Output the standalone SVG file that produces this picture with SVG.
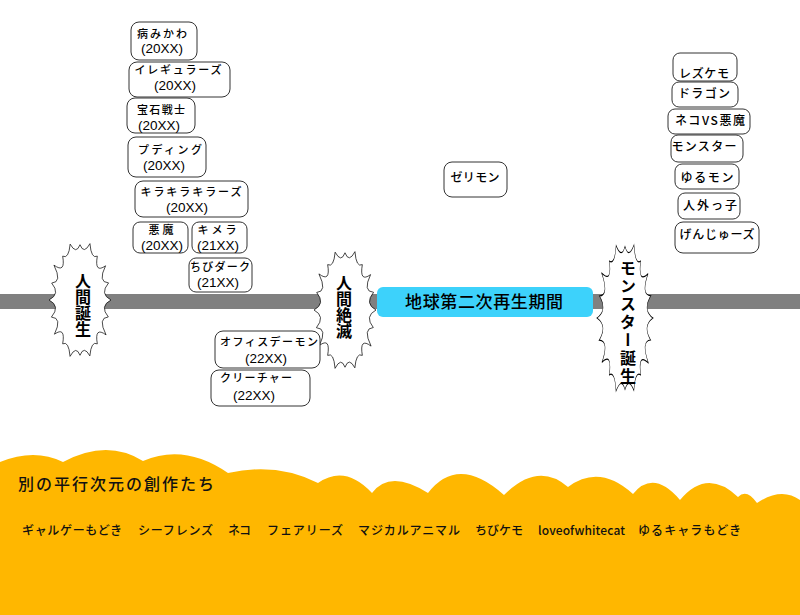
<svg xmlns="http://www.w3.org/2000/svg" xmlns:xlink="http://www.w3.org/1999/xlink" width="800" height="615" viewBox="0 0 800 615">
<style>
.box{fill:#fff;stroke:#333;stroke-width:1}
.t{font-family:"Noto Sans CJK JP","Noto Sans",sans-serif;font-size:11px;font-weight:500;fill:#000;text-anchor:middle}
.s{font-size:12px}
.y{font-family:"Liberation Sans",Arial,sans-serif;font-size:13.5px;fill:#000;text-anchor:middle}
.burst{fill:#fff;stroke:#000;stroke-width:1.6;stroke-linejoin:miter;vector-effect:non-scaling-stroke}
.v{font-family:"Noto Sans CJK JP",sans-serif;font-size:16px;font-weight:bold;fill:#000;writing-mode:vertical-rl;text-anchor:middle}
.list{font-family:"Noto Sans CJK JP","Noto Sans",sans-serif;font-size:12px;font-weight:500;fill:#111}
</style>
<defs>
<path id="bp" d="M100,0 Q62,10.6 91.3,29.7 Q56,30.9 84.1,61.2 Q46,46 55.9,76.9 Q36.3,71.3 31.8,98 Q12.5,79 0,97 Q-12.5,79 -32.1,98.9 Q-36.3,71.3 -55.9,76.9 Q-46,46 -82.5,60 Q-56,30.9 -92.2,30 Q-62,10.6 -100,0 Q-62,-10.6 -91.3,-29.7 Q-56,-30.9 -84.1,-61.2 Q-46,-46 -55.9,-76.9 Q-36.3,-71.3 -31.8,-98 Q-12.5,-79 0,-97 Q12.5,-79 32.1,-98.9 Q36.3,-71.3 55.9,-76.9 Q46,-46 82.5,-60 Q56,-30.9 92.2,-30 Q62,-10.6 100,0 Z"/>
</defs>
<rect width="800" height="615" fill="#fff"/>
<g id="timeline">
<rect x="0" y="294" width="800" height="15" fill="#808080"/>
</g>
<g id="bottom">
<path d="M0,462 Q34.5,448 63,462 Q107,438.5 143,461 Q184.5,443 228,473 Q277,462 318,483 Q345,464 372,493 Q390,469 428,493 Q458,454 504,495 Q538,461 568,487 Q599.5,463.5 633,494 Q653.5,469 680,500 Q707,467.5 738,497 Q746.5,488 757,503 Q781.5,486.5 800,500 L800,615 L0,615 Z" fill="#FFB700"/>
<text x="18" y="490" font-family="Noto Sans CJK JP,sans-serif" font-size="16" font-weight="500" fill="#111" textLength="196" lengthAdjust="spacing">別の平行次元の創作たち</text>
<text class="list" x="22" y="535" textLength="100" lengthAdjust="spacing">ギャルゲーもどき</text>
<text class="list" x="138" y="535" textLength="75" lengthAdjust="spacing">シーフレンズ</text>
<text class="list" x="228" y="535" textLength="23" lengthAdjust="spacing">ネコ</text>
<text class="list" x="267" y="535" textLength="76" lengthAdjust="spacing">フェアリーズ</text>
<text class="list" x="358" y="535" textLength="102" lengthAdjust="spacing">マジカルアニマル</text>
<text class="list" x="475" y="535" textLength="48" lengthAdjust="spacing">ちびケモ</text>
<text class="list" x="538" y="535" font-size="13" textLength="87" lengthAdjust="spacing">loveofwhitecat</text>
<text class="list" x="638" y="535" textLength="103" lengthAdjust="spacing">ゆるキャラもどき</text>
</g>
<g id="period">
<rect x="377" y="287" width="216" height="30" rx="6" fill="#3DD2FB"/>
<text x="484" y="308" font-family="Noto Sans CJK JP,sans-serif" font-size="17" font-weight="500" fill="#000" text-anchor="middle" textLength="158" lengthAdjust="spacing">地球第二次再生期間</text>
</g>
<g id="burst-human-birth">
<use xlink:href="#bp" class="burst" transform="translate(80,300) scale(0.31,0.57)"/>
<text class="v" x="83" y="305">人間誕生</text>
</g>
<g id="burst-human-extinct">
<use xlink:href="#bp" class="burst" transform="translate(345,310) scale(0.31,0.59)"/>
<text class="v" x="344" y="307">人間絶滅</text>
</g>
<g id="burst-monster-birth">
<use xlink:href="#bp" class="burst" transform="translate(625,318) scale(0.28,0.74)"/>
<text class="v" x="628" y="323" letter-spacing="2">モンスター誕生</text>
</g>
<g id="n-yamikawa"><rect class="box" x="131" y="22" width="66" height="38" rx="8"/><text class="t" x="162" y="38" textLength="50" lengthAdjust="spacing">病みかわ</text><text class="y" x="162" y="52.5">(20XX)</text></g>
<g id="n-irregulars"><rect class="box" x="129" y="62" width="101" height="35" rx="8"/><text class="t" x="178" y="74" textLength="87" lengthAdjust="spacing">イレギュラーズ</text><text class="y" x="175" y="89.5">(20XX)</text></g>
<g id="n-houseki"><rect class="box" x="127" y="98" width="68" height="35" rx="8"/><text class="t" x="161" y="114" textLength="48" lengthAdjust="spacing">宝石戦士</text><text class="y" x="159" y="129.5">(20XX)</text></g>
<g id="n-pudding"><rect class="box" x="128" y="137" width="78" height="40" rx="8"/><text class="t" x="170" y="154" textLength="64" lengthAdjust="spacing">プディング</text><text class="y" x="164" y="169.5">(20XX)</text></g>
<g id="n-kirakira"><rect class="box" x="135" y="181" width="113" height="36" rx="8"/><text class="t" x="191" y="196" textLength="101" lengthAdjust="spacing">キラキラキラーズ</text><text class="y" x="187" y="211.5">(20XX)</text></g>
<g id="n-akuma"><rect class="box" x="133" y="222" width="55" height="31" rx="7"/><text class="t" x="161" y="234" textLength="25" lengthAdjust="spacing">悪魔</text><text class="y" x="162" y="249.5">(20XX)</text></g>
<g id="n-kimera"><rect class="box" x="192" y="222" width="55" height="31" rx="7"/><text class="t" x="217" y="234" textLength="39" lengthAdjust="spacing">キメラ</text><text class="y" x="218" y="249.5">(21XX)</text></g>
<g id="n-chibidark"><rect class="box" x="189" y="258" width="63" height="34" rx="7"/><text class="t" x="220" y="271" textLength="60" lengthAdjust="spacing">ちびダーク</text><text class="y" x="218" y="286.5">(21XX)</text></g>
<g id="n-officedemon"><rect class="box" x="215" y="331" width="105" height="37" rx="8"/><text class="t" x="269" y="346" textLength="98" lengthAdjust="spacing">オフィスデーモン</text><text class="y" x="266" y="362.5">(22XX)</text></g>
<g id="n-creature"><rect class="box" x="211" y="370" width="99" height="36" rx="8"/><text class="t" x="256" y="382" textLength="72" lengthAdjust="spacing">クリーチャー</text><text class="y" x="254" y="399.5">(22XX)</text></g>
<g id="n-zerimon"><rect class="box" x="444" y="162" width="63" height="35" rx="8"/><text class="t s" x="475" y="181.5" textLength="49" lengthAdjust="spacing">ゼリモン</text></g>
<g id="n-rezukemo"><rect class="box" x="673" y="53" width="64" height="28" rx="7"/><text class="t s" x="704" y="77.5" textLength="50" lengthAdjust="spacing">レズケモ</text></g>
<g id="n-dragon"><rect class="box" x="672" y="82" width="66" height="25" rx="7"/><text class="t s" x="704" y="97.5" textLength="52" lengthAdjust="spacing">ドラゴン</text></g>
<g id="n-nekovs"><rect class="box" x="668" y="109" width="82" height="25" rx="7"/><text class="t s" x="710" y="124.5" textLength="70" lengthAdjust="spacing">ネコVS悪魔</text></g>
<g id="n-monster"><rect class="box" x="671" y="135" width="72" height="27" rx="7"/><text class="t s" x="704" y="150.5" textLength="65" lengthAdjust="spacing">モンスター</text></g>
<g id="n-yurumon"><rect class="box" x="675" y="164" width="64" height="25" rx="7"/><text class="t s" x="707" y="181.5" textLength="53" lengthAdjust="spacing">ゆるモン</text></g>
<g id="n-jingaikko"><rect class="box" x="678" y="193" width="62" height="26" rx="7"/><text class="t s" x="710" y="209.5" textLength="54" lengthAdjust="spacing">人外っ子</text></g>
<g id="n-genjus"><rect class="box" x="675" y="222" width="84" height="31" rx="8"/><text class="t s" x="717" y="238.5" textLength="75" lengthAdjust="spacing">げんじゅーズ</text></g>
</svg>
